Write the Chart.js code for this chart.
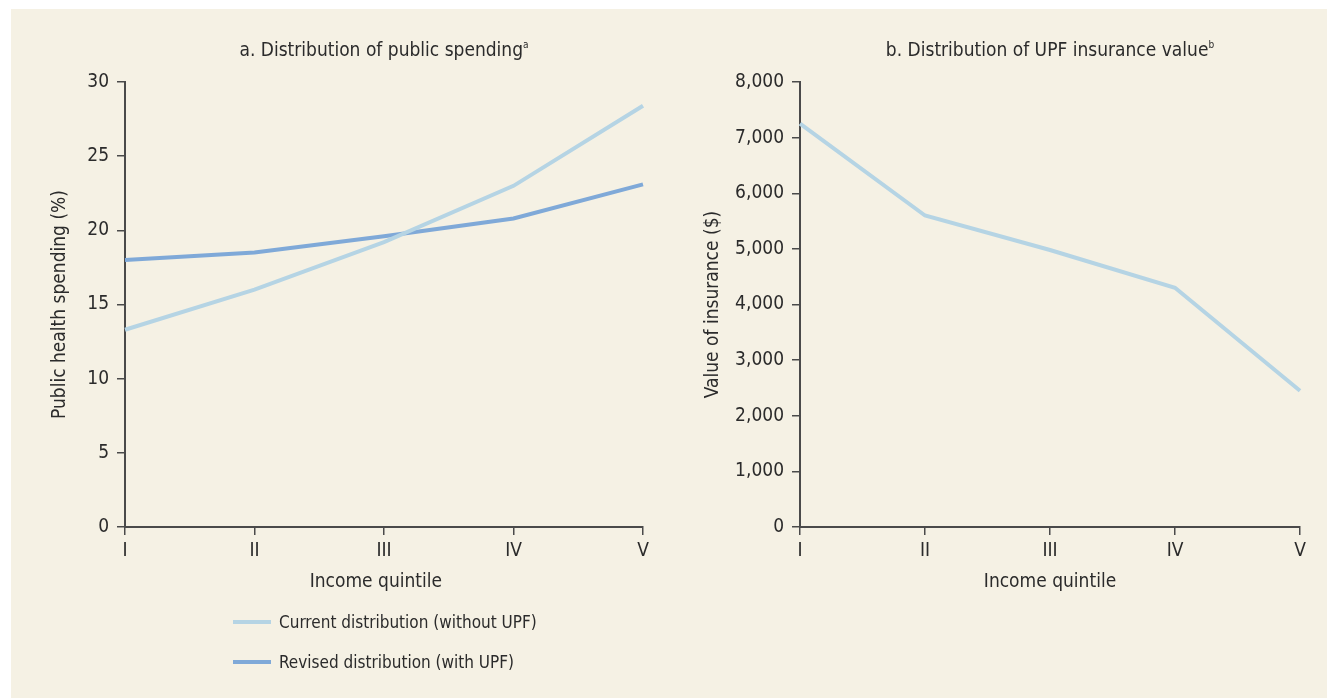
<!DOCTYPE html>
<html>
<head>
<meta charset="utf-8">
<script src="https://cdn.jsdelivr.net/npm/chart.js@4/dist/chart.umd.min.js"></script>
<style>
  html, body { margin: 0; padding: 0; background: #fff; }
  body { width: 1327px; height: 698px; position: relative; overflow: hidden;
    font-family: "Liberation Sans Narrow", "DejaVu Sans Condensed", "Liberation Sans", sans-serif; color: #2b2b2b; }
  #panel { position: absolute; left: 11px; top: 9px; right: 0; bottom: 0; background: #f5f1e4; }
  .wrap { position: absolute; top: 0; }
  .title { position: absolute; top: 38px; font-size: 19px; text-align: center; white-space: nowrap; }
  .title sup { font-size: 10px; vertical-align: 8px; line-height: 0; }
  .legend { position: absolute; left: 233px; font-size: 17px; white-space: nowrap; }
  .legend span.swatch { display: inline-block; width: 38px; height: 4px; vertical-align: middle; margin-right: 8px; position: relative; top: -1px; }
</style>
</head>
<body>
<div id="panel"></div>
<div class="wrap" style="left:0;width:680px;height:620px;"><canvas id="chartA"></canvas></div>
<div class="wrap" style="left:680px;width:647px;height:620px;"><canvas id="chartB"></canvas></div>
<div class="title" style="left:184px;width:400px;">a. Distribution of public spending<sup>a</sup></div>
<div class="title" style="left:850px;width:400px;">b. Distribution of UPF insurance value<sup>b</sup></div>
<div class="legend" style="top:612px;"><span class="swatch" style="background:#b5d4e4"></span>Current distribution (without UPF)</div>
<div class="legend" style="top:652px;"><span class="swatch" style="background:#7fa9d8"></span>Revised distribution (with UPF)</div>
<script>
// data
const quintiles = ["I", "II", "III", "IV", "V"];
const currentShare = [13.3, 16.0, 19.2, 23.0, 28.4];
const revisedShare = [18.0, 18.5, 19.6, 20.8, 23.1];
const insuranceValue = [7250, 5600, 4980, 4300, 2450];

const axisColor = "#4a4a4a";
const textColor = "#2b2b2b";
Chart.defaults.font.family = '"Liberation Sans Narrow", "DejaVu Sans Condensed", "Liberation Sans", sans-serif';
Chart.defaults.font.size = 19;
Chart.defaults.color = textColor;

const makeOptions = (yMax, yStep, xTitle, yTitle, pad, yWidth) => ({
  responsive: true,
  maintainAspectRatio: false,
  animation: false,
  layout: { padding: pad },
  plugins: { legend: { display: false }, tooltip: { enabled: false } },
  elements: { point: { radius: 0 }, line: { tension: 0 } },
  scales: {
    x: {
      offset: false,
      grid: { drawOnChartArea: false, tickLength: 8, color: axisColor, lineWidth: 1.5 },
      border: { color: axisColor, width: 2 },
      ticks: { padding: 5, maxRotation: 0 },
      title: { display: true, text: xTitle, padding: { top: 4, bottom: 4 } },
      afterFit: (s) => { s.height = 70; },
    },
    y: {
      min: 0,
      max: yMax,
      grid: { drawOnChartArea: false, tickLength: 8, color: axisColor, lineWidth: 1.5 },
      border: { color: axisColor, width: 2 },
      ticks: { stepSize: yStep, padding: 8 },
      title: { display: true, text: yTitle, padding: { top: 4, bottom: 4 } },
      afterFit: (s) => { s.width = yWidth; },
    },
  },
});

new Chart(document.getElementById("chartA"), {
  type: "line",
  data: {
    labels: quintiles,
    datasets: [
      { label: "Current distribution (without UPF)", data: currentShare, borderColor: "#b5d4e4", borderWidth: 4 },
      { label: "Revised distribution (with UPF)", data: revisedShare, borderColor: "#7fa9d8", borderWidth: 4 },
    ],
  },
  // trailing spaces nudge the axis title a bit left, like the original
  options: makeOptions(30, 5, "Income quintile   ", "Public health spending (%)", { top: 82, left: 45, right: 37, bottom: 23 }, 80),
});

new Chart(document.getElementById("chartB"), {
  type: "line",
  data: {
    labels: quintiles,
    datasets: [
      { label: "Value of insurance", data: insuranceValue, borderColor: "#b5d4e4", borderWidth: 4 },
    ],
  },
  options: makeOptions(8000, 1000, "Income quintile", "Value of insurance ($)", { top: 82, left: 18, right: 27, bottom: 23 }, 102),
});
</script>
</body>
</html>
